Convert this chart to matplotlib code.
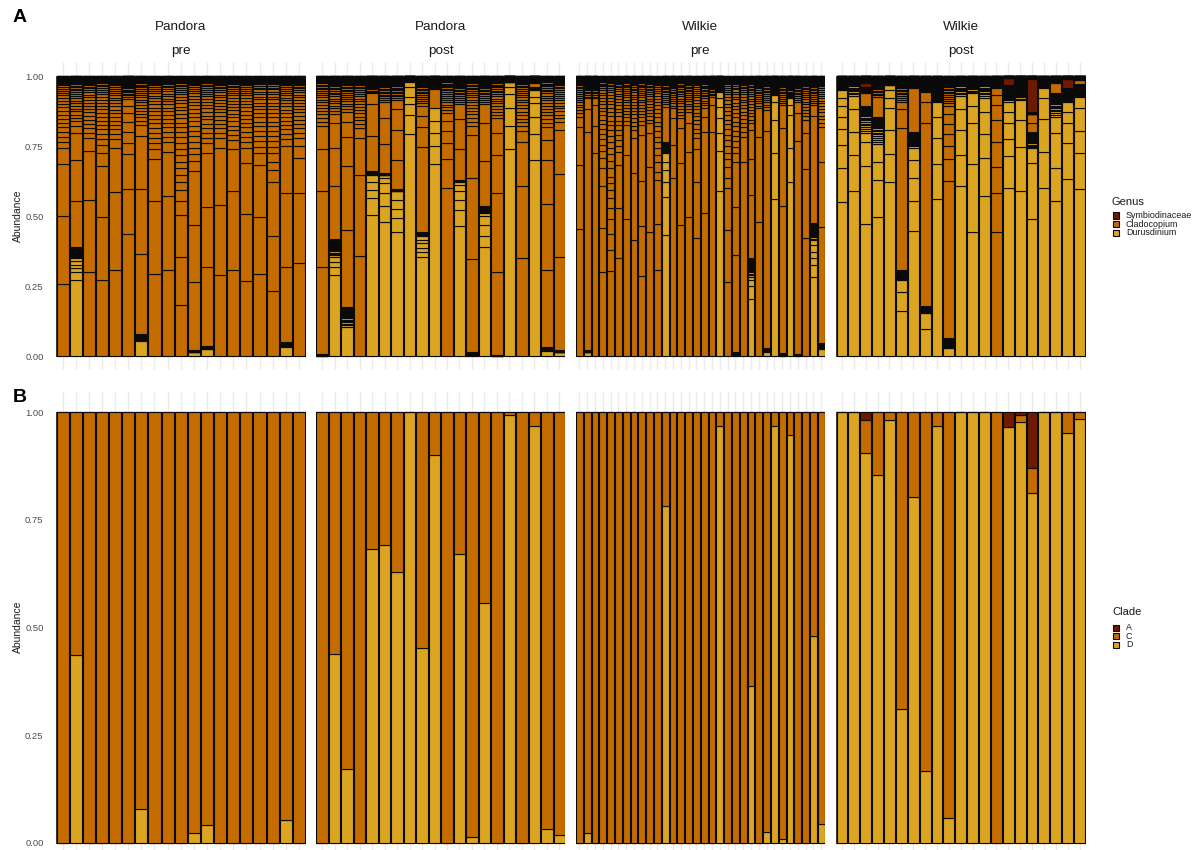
import matplotlib
matplotlib.use("Agg")
import matplotlib.pyplot as plt
from matplotlib.patches import Rectangle

plt.rcParams['font.family'] = ['Liberation Sans', 'DejaVu Sans']

# ---------------- colours ----------------
GENUS = ['Symbiodinaceae', 'Cladocopium', 'Durusdinium']
CLADE = ['A', 'C', 'D']
COLORS = ['#6E1A00', '#C46C00', '#DBA521']

FACET_SITE = ['Pandora', 'Pandora', 'Wilkie', 'Wilkie']
FACET_TIME = ['pre', 'post', 'pre', 'post']

# relative sizes of the many small ASVs at the top of each genus block (panel A)
TAIL = [0.08, 0.075, 0.07, 0.066, 0.062, 0.058, 0.055, 0.052, 0.049, 0.046, 0.043,
        0.04, 0.037, 0.034, 0.031, 0.028, 0.025, 0.022, 0.019, 0.016, 0.013, 0.011,
        0.009, 0.008, 0.007, 0.006, 0.005, 0.005, 0.004, 0.004, 0.003, 0.003, 0.003,
        0.002, 0.002, 0.002, 0.002, 0.001, 0.001, 0.001]

# ---------------- panel A: cumulative segment tops per bar (last value = genus top) ----------------
PP_D = [[], [0.271, 0.299, 0.313, 0.325, 0.339, 0.351, 0.39], [], [], [], [], [0.054, 0.077], [], [], [],
        [0.013, 0.021], [0.025, 0.036], [], [], [], [], [], [0.033, 0.051], []]
PP_C = [[0.256, 0.501, 0.686, 0.742, 1.0], [0.554, 0.70, 0.795, 0.82, 0.838, 0.85, 1.0],
        [0.301, 0.557, 0.732, 0.78, 1.0], [0.271, 0.495, 0.679, 0.724, 0.754, 1.0],
        [0.307, 0.587, 0.742, 0.775, 1.0], [0.436, 0.595, 0.72, 0.76, 0.80, 0.837, 0.867, 0.894, 0.918, 1.0],
        [0.363, 0.595, 0.787, 0.825, 1.0], [0.293, 0.554, 0.704, 0.739, 1.0],
        [0.307, 0.571, 0.73, 0.765, 1.0],
        [0.182, 0.352, 0.504, 0.554, 0.593, 0.623, 0.646, 0.67, 0.694, 0.718, 1.0],
        [0.263, 0.468, 0.661, 0.696, 1.0], [0.319, 0.533, 0.724, 0.76, 1.0],
        [0.289, 0.539, 0.742, 0.78, 1.0], [0.307, 0.589, 0.738, 0.771, 1.0],
        [0.268, 0.507, 0.69, 0.742, 1.0], [0.293, 0.495, 0.682, 0.724, 1.0],
        [0.233, 0.429, 0.623, 0.664, 0.694, 0.724, 1.0], [0.319, 0.583, 0.75, 0.775, 1.0],
        [0.333, 0.581, 0.708, 0.75, 0.78, 1.0]]
PP_A = [[] for _ in range(19)]

PQ_D = [[0.006], [0.289, 0.317, 0.337, 0.355, 0.418], [0.105, 0.176], [],
        [0.504, 0.565, 0.593, 0.623, 0.646, 0.661], [0.48, 0.536, 0.581, 0.617, 0.635, 0.646, 0.652],
        [0.444, 0.494, 0.525, 0.557, 0.589, 0.595], [0.792, 0.861, 0.899, 0.926, 0.962, 0.98, 1.0],
        [0.355, 0.373, 0.387, 0.402, 0.414, 0.43, 0.442], [0.685, 0.75, 0.795, 0.839, 0.887, 0.887],
        [], [0.465, 0.521, 0.557, 0.589, 0.611, 0.623, 0.629], [0.015],
        [0.39, 0.43, 0.468, 0.50, 0.512, 0.537], [0.005],
        [0.739, 0.821, 0.885, 0.935, 0.962, 0.977, 0.985], [],
        [0.70, 0.792, 0.855, 0.902, 0.926, 0.95, 0.962], [0.019, 0.033], [0.013, 0.02]]
PQ_C = [[0.317, 0.589, 0.739, 0.823, 1.0], [0.608, 0.742, 0.831, 0.863, 1.0],
        [0.45, 0.68, 0.783, 0.837, 0.873, 1.0], [0.358, 0.646, 0.78, 0.813, 1.0],
        [0.787, 0.899, 0.938, 1.0], [0.756, 0.849, 0.906, 1.0], [0.70, 0.807, 0.882, 0.914, 1.0],
        [], [0.748, 0.819, 0.858, 0.894, 1.0], [0.954, 1.0],
        [0.601, 0.704, 0.76, 0.804, 0.839, 0.867, 1.0], [0.739, 0.845, 0.899, 1.0],
        [0.345, 0.635, 0.789, 0.823, 1.0], [0.696, 0.831, 0.899, 1.0],
        [0.301, 0.581, 0.718, 0.795, 0.849, 1.0], [1.0], [0.349, 0.608, 0.765, 0.804, 1.0],
        [0.975, 1.0], [0.307, 0.542, 0.70, 0.771, 0.819, 1.0], [0.355, 0.65, 0.807, 0.837, 1.0]]
PQ_A = [[] for _ in range(20)]

WP_D = [[], [0.013, 0.02], [], [], [], [], [], [], [], [], [],
        [0.432, 0.567, 0.62, 0.664, 0.694, 0.724, 0.765], [], [], [], [], [], [],
        [0.589, 0.732, 0.795, 0.849, 0.89, 0.92, 0.944, 0.955], [], [0.015], [],
        [0.202, 0.251, 0.271, 0.283, 0.351], [], [0.015, 0.03],
        [0.56, 0.724, 0.843, 0.906, 0.932, 0.95], [0.01],
        [0.623, 0.742, 0.861, 0.896, 0.92, 0.944], [0.008], [],
        [0.281, 0.325, 0.349, 0.373, 0.396, 0.414, 0.474], [0.025, 0.045]]
WP_C = [[0.452, 0.682, 0.819, 0.855, 1.0], [0.801, 0.882, 0.92, 1.0], [0.726, 0.821, 0.896, 0.92, 1.0],
        [0.301, 0.458, 0.608, 0.673, 0.708, 1.0],
        [0.304, 0.379, 0.435, 0.489, 0.527, 0.563, 0.593, 0.617, 0.64, 0.67, 1.0],
        [0.351, 0.53, 0.682, 0.73, 1.0], [0.489, 0.718, 0.825, 1.0], [0.414, 0.652, 0.78, 0.807, 1.0],
        [0.286, 0.464, 0.625, 0.789, 0.825, 1.0], [0.444, 0.676, 0.795, 0.831, 1.0],
        [0.307, 0.47, 0.629, 0.658, 0.694, 1.0], [0.89, 1.0], [0.635, 0.754, 0.849, 0.885, 1.0],
        [0.468, 0.688, 0.815, 0.849, 1.0], [0.498, 0.73, 0.831, 0.873, 1.0],
        [0.42, 0.62, 0.738, 0.777, 1.0], [0.512, 0.801, 0.855, 0.887, 1.0], [0.801, 0.896, 0.926, 1.0],
        [1.0], [0.263, 0.45, 0.599, 0.637, 0.676, 1.0], [0.361, 0.533, 0.692, 0.724, 1.0],
        [0.694, 0.783, 1.0], [0.575, 0.702, 0.807, 0.831, 1.0], [0.477, 0.783, 0.885, 1.0],
        [0.804, 0.879, 1.0], [1.0], [0.536, 0.813, 0.896, 1.0], [1.0], [0.768, 0.867, 0.908, 1.0],
        [0.42, 0.667, 0.798, 0.843, 1.0], [0.858, 0.896, 1.0], [0.462, 0.694, 0.817, 1.0]]
WP_A = [[] for _ in range(32)]

WQ_D = [[0.551, 0.673, 0.754, 0.811, 0.855, 0.894, 0.923, 0.95, 1.0],
        [0.59, 0.718, 0.801, 0.881, 0.93, 1.0], [0.471, 0.68, 0.763, 0.795, 0.894],
        [0.498, 0.627, 0.692, 0.757, 0.855], [0.623, 0.72, 0.807, 0.887, 0.92, 0.95, 0.968, 0.975],
        [0.162, 0.23, 0.271, 0.307], [0.448, 0.554, 0.635, 0.70, 0.744, 0.801], [0.095, 0.152, 0.18],
        [0.56, 0.686, 0.777, 0.855, 0.908, 0.95], [0.027, 0.063],
        [0.607, 0.718, 0.807, 0.882, 0.93, 1.0], [0.444, 0.686, 0.833, 0.893, 0.938, 1.0],
        [0.573, 0.708, 0.792, 0.873, 0.923, 1.0], [],
        [0.599, 0.715, 0.775, 0.831, 0.873, 0.908, 0.968], [0.589, 0.745, 0.843, 0.914, 0.975],
        [0.489, 0.688, 0.742, 0.801], [0.599, 0.727, 0.846, 0.923, 0.958, 1.0],
        [0.554, 0.673, 0.795, 0.855, 0.94], [0.632, 0.761, 0.831, 0.87, 0.906, 0.956],
        [0.596, 0.724, 0.804, 0.885, 0.924, 0.97]]
WQ_C = [[], [], [0.938, 0.962], [0.926, 1.0], [1.0], [0.815, 0.882, 0.908, 1.0], [0.958, 1.0],
        [0.831, 0.908, 0.942, 1.0], [1.0], [0.626, 0.702, 0.75, 0.792, 0.827, 0.863, 0.894, 1.0],
        [], [], [], [0.442, 0.581, 0.676, 0.763, 0.843, 0.896, 0.932, 0.956, 1.0], [], [0.99],
        [0.831, 0.863, 0.87], [], [0.974, 1.0], [], [0.986, 1.0]]
WQ_A = [[], [], [0.975, 1.0], [], [], [], [], [], [], [], [], [], [], [], [0.992, 1.0], [1.0],
        [0.99, 1.0], [], [], [0.99, 1.0], []]

PANEL_A = [(PP_D, PP_C, PP_A), (PQ_D, PQ_C, PQ_A), (WP_D, WP_C, WP_A), (WQ_D, WQ_C, WQ_A)]

# ---------------- panel B: clade proportions per bar ----------------
B_PP_D = [0, 0.437, 0, 0, 0, 0, 0.079, 0, 0, 0, 0.023, 0.042, 0, 0, 0, 0, 0, 0.054, 0]
B_PP_A = [0] * 19
B_PQ_D = [0, 0.439, 0.172, 0, 0.682, 0.691, 0.629, 1.0, 0.452, 0.901, 0, 0.671, 0.014, 0.557,
          0, 0.994, 0, 0.968, 0.032, 0.019]
B_PQ_A = [0] * 20
B_WP_D = [0, 0.022, 0, 0, 0, 0, 0, 0, 0, 0, 0, 0.783, 0, 0, 0, 0, 0, 0, 0.967, 0, 0, 0, 0.365,
          0, 0.026, 0.967, 0.009, 0.946, 0, 0, 0.48, 0.044]
B_WP_A = [0] * 32
B_WQ_D = [1.0, 1.0, 0.905, 0.855, 0.981, 0.312, 0.804, 0.168, 0.968, 0.058, 1.0, 1.0, 1.0, 0,
          0.965, 0.977, 0.812, 1.0, 1.0, 0.951, 0.985]
B_WQ_A = [0, 0, 0.019, 0, 0, 0, 0, 0, 0, 0, 0, 0, 0, 0, 0.035, 0.006, 0.13, 0, 0, 0, 0]
PANEL_B = [(B_PP_D, B_PP_A), (B_PQ_D, B_PQ_A), (B_WP_D, B_WP_A), (B_WQ_D, B_WQ_A)]

YTICKS = [0.0, 0.25, 0.5, 0.75, 1.0]
YLABELS = ['0.00', '0.25', '0.50', '0.75', '1.00']

# ---------------- layout ----------------
W, H = 1200, 850
fig = plt.figure(figsize=(W / 100, H / 100), dpi=100)
fig.patch.set_facecolor('white')

FACET_LEFT = [56, 316, 575.5, 836]
FACET_W = 249.5
GAP_PX = 1.0
LW = 0.8
EDGE = '#0a0a0a'
GRID = '#EBEBEB'
TICKC = '#4D4D4D'


def fig_rect(left, top, right, bottom):
    return [left / W, 1 - bottom / H, (right - left) / W, (bottom - top) / H]


def setup_axis(ax, n, first):
    ax.set_xlim(-0.5, n - 0.5)
    ax.set_ylim(-0.05, 1.05)
    for s in ax.spines.values():
        s.set_visible(False)
    ax.vlines(range(n), -0.05, 1.05, color=GRID, lw=1.0, zorder=0)
    ax.add_patch(Rectangle((-0.5, 0), n, 1, facecolor=EDGE, edgecolor='#3a3a3a', lw=0.8, zorder=1))
    ax.set_xticks([])
    ax.set_yticks(YTICKS)
    if first:
        ax.set_yticklabels(YLABELS, fontsize=6.8, color=TICKC)
    else:
        ax.set_yticklabels([])
    ax.tick_params(axis='y', length=0, pad=9)
    ax.set_facecolor('white')
    return 1 - GAP_PX * n / FACET_W


def segs_from_cuts(base, cuts):
    """return (bottoms, heights) of segments of one genus; region above the
    second-last cut is split into the small ASV tail."""
    bottoms, heights = [], []
    prev = base
    for c in cuts[:-1]:
        bottoms.append(prev)
        heights.append(c - prev)
        prev = c
    tail = cuts[-1] - prev
    if tail > 1e-9:
        tot = sum(TAIL)
        for t in TAIL:
            h = tail * t / tot
            bottoms.append(prev)
            heights.append(h)
            prev += h
    return bottoms, heights


# Panel A
for k, (Dl, Cl, Al) in enumerate(PANEL_A):
    n = len(Dl)
    ax = fig.add_axes(fig_rect(FACET_LEFT[k], 62, FACET_LEFT[k] + FACET_W, 370))
    bw = setup_axis(ax, n, k == 0)
    for i in range(n):
        base = 0.0
        for cuts, col in ((Dl[i], COLORS[2]), (Cl[i], COLORS[1]), (Al[i], COLORS[0])):
            if not cuts:
                continue
            b, h = segs_from_cuts(base, cuts)
            ax.bar([i] * len(h), h, bottom=b, width=bw, color=col,
                   edgecolor=EDGE, linewidth=LW, zorder=2)
            base = cuts[-1]
    # strips
    cx = (FACET_LEFT[k] + FACET_W / 2) / W
    fig.text(cx, 1 - 29.5 / H, FACET_SITE[k], ha='center', va='baseline', fontsize=9.7, color='#1A1A1A')
    fig.text(cx, 1 - 54 / H, FACET_TIME[k], ha='center', va='baseline', fontsize=9.7, color='#1A1A1A')

# Panel B
for k, (Dv, Av) in enumerate(PANEL_B):
    n = len(Dv)
    ax = fig.add_axes(fig_rect(FACET_LEFT[k], 390.5, FACET_LEFT[k] + FACET_W, 864.5))
    bw = setup_axis(ax, n, k == 0)
    x = list(range(n))
    Cv = [1 - d - a for d, a in zip(Dv, Av)]
    ax.bar(x, Dv, width=bw, color=COLORS[2], edgecolor=EDGE, linewidth=LW, zorder=2)
    ax.bar(x, Cv, bottom=Dv, width=bw, color=COLORS[1], edgecolor=EDGE, linewidth=LW, zorder=2)
    ax.bar(x, Av, bottom=[d + c for d, c in zip(Dv, Cv)], width=bw, color=COLORS[0],
           edgecolor=EDGE, linewidth=LW, zorder=2)

# panel tags and axis titles
fig.text(20 / W, 1 - 17 / H, 'A', ha='center', va='center', fontsize=14, fontweight='bold')
fig.text(20 / W, 1 - 398 / H, 'B', ha='center', va='center', fontsize=14, fontweight='bold')
fig.text(18 / W, 1 - 216 / H, 'Abundance', rotation=90, ha='center', va='center', fontsize=7.5, color='#1A1A1A')
fig.text(18 / W, 1 - 627 / H, 'Abundance', rotation=90, ha='center', va='center', fontsize=7.5, color='#1A1A1A')


def legend(title, labels, x0, title_y, first_y, dy):
    fig.text(x0 / W, 1 - title_y / H, title, ha='left', va='center', fontsize=8, color='#1A1A1A')
    for j, (lab, col) in enumerate(zip(labels, COLORS)):
        yc = first_y + j * dy
        fig.add_artist(Rectangle(((x0 + 0.5) / W, 1 - (yc + 3) / H), 6 / W, 6 / H,
                                 transform=fig.transFigure, facecolor=col, edgecolor=EDGE, lw=0.8))
        fig.text((x0 + 14) / W, 1 - yc / H, lab, ha='left', va='center', fontsize=6.4, color='#1A1A1A')


legend('Genus', GENUS, 1112, 202, 215.5, 8.7)
legend('Clade', CLADE, 1112, 612, 627.5, 8.7)

fig.savefig('out.png', dpi=100, facecolor='white')
